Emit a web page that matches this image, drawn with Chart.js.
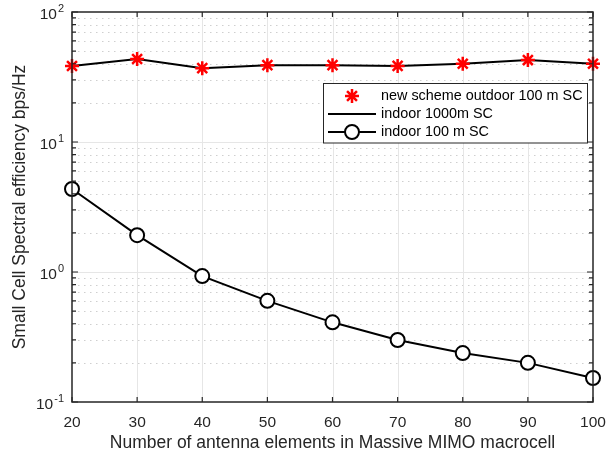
<!DOCTYPE html>
<html>
<head>
<meta charset="utf-8">
<script src="https://cdn.jsdelivr.net/npm/chart.js@4"></script>
<style>
  html, body { margin: 0; padding: 0; background: #fff; }
  #wrap { width: 613px; height: 456px; }
</style>
</head>
<body>
<div id="wrap"><canvas id="c" width="613" height="456"></canvas></div>
<script>
// data
var antennas = [20, 30, 40, 50, 60, 70, 80, 90, 100];
var outdoor100 = [38.4, 43.5, 37.0, 39.0, 39.0, 38.5, 40.0, 42.7, 40.0];
var indoor1000 = [38.4, 43.5, 37.0, 39.0, 39.0, 38.5, 40.0, 42.7, 40.0];
var indoor100 = [4.35, 1.92, 0.93, 0.60, 0.41, 0.30, 0.238, 0.20, 0.153];
var decades = [0.1, 1, 10, 100];
var exponents = ['-1', '0', '1', '2'];

var FONT = 'Liberation Sans, Arial, Helvetica, sans-serif';

function pairs(ys) {
    return antennas.map(function (x, i) { return { x: x, y: ys[i] }; });
}

// matlab-ish grid, box, inward ticks, 10^n labels and legend
var matlabAxes = {
    id: 'matlabAxes',
    beforeDatasetsDraw: function (chart) {
        var ctx = chart.ctx, a = chart.chartArea;
        var xs = chart.scales.x, ys = chart.scales.y;
        ctx.save();
        // minor horizontal dotted
        ctx.strokeStyle = '#cfcfcf';
        ctx.lineWidth = 1;
        ctx.setLineDash([1.5, 4.5]);
        for (var d = 0.1; d < 100; d *= 10) {
            for (var k = 2; k <= 9; k++) {
                var py = Math.round(ys.getPixelForValue(d * k)) + 0.5;
                ctx.beginPath(); ctx.moveTo(a.left, py); ctx.lineTo(a.right, py); ctx.stroke();
            }
        }
        ctx.setLineDash([]);
        ctx.strokeStyle = '#e6e6e6';
        [1, 10].forEach(function (v) {
            var py = Math.round(ys.getPixelForValue(v)) + 0.5;
            ctx.beginPath(); ctx.moveTo(a.left, py); ctx.lineTo(a.right, py); ctx.stroke();
        });
        antennas.forEach(function (v) {
            if (v === 20 || v === 100) return;
            var px = Math.round(xs.getPixelForValue(v)) + 0.5;
            ctx.beginPath(); ctx.moveTo(px, a.top); ctx.lineTo(px, a.bottom); ctx.stroke();
        });
        ctx.restore();
    },
    afterDatasetsDraw: function (chart) {
        var ctx = chart.ctx, a = chart.chartArea;
        var xs = chart.scales.x, ys = chart.scales.y;
        ctx.save();
        ctx.strokeStyle = '#262626';
        ctx.lineWidth = 1.5;
        ctx.strokeRect(a.left, a.top, a.right - a.left, a.bottom - a.top);
        ctx.lineWidth = 1.2;
        for (var d = 0.1; d <= 100; d *= 10) {
            for (var k = 1; k <= 9; k++) {
                var v = d * k;
                if (v > 100.01) break;
                var py = ys.getPixelForValue(v);
                var len = k === 1 ? 6 : 4;
                ctx.beginPath();
                ctx.moveTo(a.left, py); ctx.lineTo(a.left + len, py);
                ctx.moveTo(a.right, py); ctx.lineTo(a.right - len, py);
                ctx.stroke();
            }
        }
        antennas.forEach(function (v) {
            var px = xs.getPixelForValue(v);
            ctx.beginPath();
            ctx.moveTo(px, a.bottom); ctx.lineTo(px, a.bottom - 5);
            ctx.moveTo(px, a.top); ctx.lineTo(px, a.top + 5);
            ctx.stroke();
        });
        // 10^n labels
        ctx.fillStyle = '#262626';
        ctx.textBaseline = 'middle';
        decades.forEach(function (v, i) {
            var py = ys.getPixelForValue(v);
            ctx.font = '11px ' + FONT;
            var ew = ctx.measureText(exponents[i]).width;
            var right = a.left - 8;
            ctx.textAlign = 'left';
            ctx.fillText(exponents[i], right - ew, py - 3);
            ctx.font = '15.5px ' + FONT;
            ctx.textAlign = 'right';
            ctx.fillText('10', right - ew - 1, py + 3);
        });
        ctx.restore();
    },
    afterDraw: function (chart) {
        // legend box, drawn from the datasets' own styles
        var ctx = chart.ctx;
        var bx = 323.5, by = 83.5, bw = 264, bh = 59.5;
        ctx.save();
        ctx.fillStyle = '#fff';
        ctx.fillRect(bx, by, bw, bh);
        ctx.strokeStyle = '#262626';
        ctx.lineWidth = 1;
        ctx.strokeRect(bx, by, bw, bh);
        ctx.font = '14.4px ' + FONT;
        ctx.textBaseline = 'middle';
        var rows = [96, 114, 132];
        var order = [2, 1, 0];
        order.forEach(function (di, r) {
            var ds = chart.data.datasets[di];
            var cy = rows[r];
            var x0 = 328, x1 = 376, cx = 352;
            if (ds.showLine !== false) {
                ctx.strokeStyle = ds.borderColor;
                ctx.lineWidth = ds.borderWidth;
                ctx.beginPath(); ctx.moveTo(x0, cy); ctx.lineTo(x1, cy); ctx.stroke();
            }
            if (ds.pointRadius > 0) {
                ctx.fillStyle = ds.pointBackgroundColor;
                ctx.strokeStyle = ds.pointBorderColor;
                ctx.lineWidth = ds.pointBorderWidth;
                Chart.helpers.drawPoint(ctx, {
                    pointStyle: ds.pointStyle, radius: ds.pointRadius, rotation: 0,
                    borderWidth: ds.pointBorderWidth
                }, cx, cy);
            }
            ctx.fillStyle = '#000';
            ctx.textAlign = 'left';
            ctx.fillText(ds.label, 381, cy);
        });
        ctx.restore();
    }
};

var ctx = document.getElementById('c').getContext('2d');
var myChart = new Chart(ctx, {
    type: 'line',
    data: {
        datasets: [{
            label: 'indoor 100 m SC',
            data: pairs(indoor100),
            borderColor: '#000',
            borderWidth: 2,
            pointStyle: 'circle',
            pointRadius: 7,
            pointBorderWidth: 2,
            pointBorderColor: '#000',
            pointBackgroundColor: '#fff',
            clip: false,
            order: 3
        }, {
            label: 'indoor 1000m SC',
            data: pairs(indoor1000),
            borderColor: '#000',
            borderWidth: 2,
            pointRadius: 0,
            clip: false,
            order: 2
        }, {
            label: 'new scheme outdoor 100 m SC',
            data: pairs(outdoor100),
            showLine: false,
            borderColor: '#ff0000',
            pointStyle: 'star',
            pointRadius: 7,
            pointBorderWidth: 2.5,
            pointBorderColor: '#ff0000',
            pointBackgroundColor: '#ff0000',
            clip: false,
            order: 1
        }]
    },
    options: {
        responsive: false,
        animation: false,
        layout: { padding: { top: 12, right: 20, left: 0, bottom: 2 } },
        plugins: { legend: { display: false }, tooltip: { enabled: false } },
        elements: { line: { tension: 0 } },
        scales: {
            x: {
                type: 'linear',
                min: 20, max: 100,
                grid: { display: false },
                border: { display: false },
                afterFit: function (s) { s.height = 52; },
                ticks: {
                    stepSize: 10,
                    color: '#262626',
                    padding: 3,
                    font: { family: FONT, size: 15.5 }
                },
                title: {
                    display: true,
                    text: 'Number of antenna elements in Massive MIMO macrocell',
                    color: '#262626',
                    padding: { top: 2, bottom: 0 },
                    font: { family: FONT, size: 17.5 }
                }
            },
            y: {
                type: 'logarithmic',
                min: 0.1, max: 100,
                grid: { display: false },
                border: { display: false },
                afterFit: function (s) { s.width = 72; },
                afterBuildTicks: function (s) {
                    s.ticks = decades.map(function (v) { return { value: v }; });
                },
                ticks: { display: false },
                title: {
                    display: true,
                    text: 'Small Cell Spectral efficiency bps/Hz',
                    color: '#262626',
                    padding: { top: 10, bottom: 0 },
                    font: { family: FONT, size: 17.5 }
                }
            }
        }
    },
    plugins: [matlabAxes]
});
</script>
</body>
</html>
